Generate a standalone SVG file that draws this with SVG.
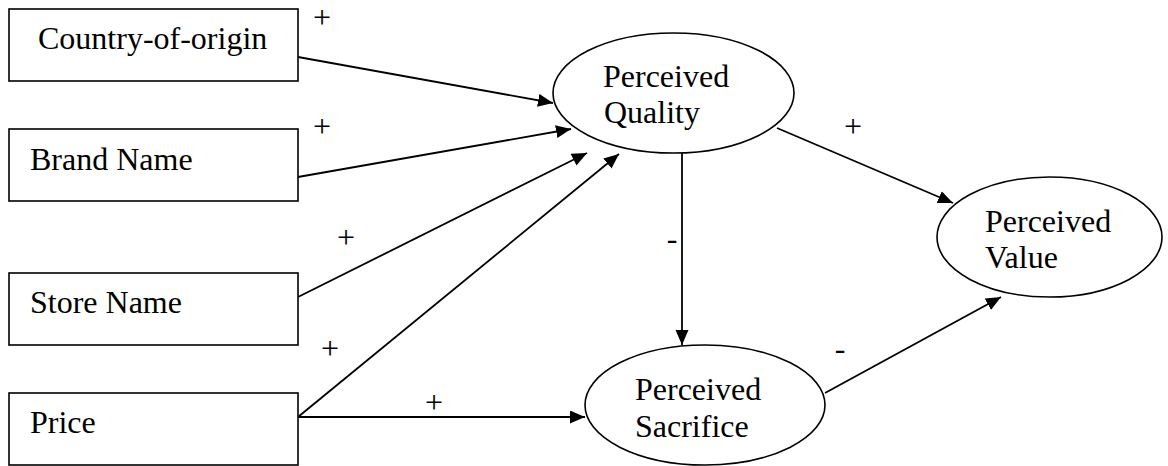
<svg xmlns="http://www.w3.org/2000/svg" width="1168" height="466" viewBox="0 0 1168 466">
<style>
.box{fill:#fff;stroke:#000;stroke-width:1.6}
.ell{fill:#fff;stroke:#000;stroke-width:1.6}
.t{font-family:"Liberation Serif","Times New Roman",serif;font-size:32px;fill:#000}
.s{font-family:"Liberation Serif","Times New Roman",serif;font-size:32px;fill:#000;text-anchor:middle}
.c{stroke:#000;stroke-width:1.8;fill:none;marker-end:url(#ah)}
</style>
<defs>
<marker id="ah" markerUnits="userSpaceOnUse" markerWidth="16" markerHeight="14" refX="15" refY="6.5" orient="auto">
<path d="M0,0 L15,6.5 L0,13 z" fill="#000"/>
</marker>
</defs>
<rect width="1168" height="466" fill="#fff"/>
<g id="connectors">
<line class="c" x1="298" y1="57" x2="553" y2="103"/>
<line class="c" x1="298" y1="177" x2="571" y2="129"/>
<line class="c" x1="298" y1="297" x2="587" y2="153"/>
<line class="c" x1="298" y1="417" x2="619" y2="154"/>
<line class="c" x1="298" y1="417" x2="585" y2="417"/>
<line class="c" x1="682" y1="153" x2="682" y2="345"/>
<line class="c" x1="777" y1="128" x2="953" y2="203"/>
<line class="c" x1="825" y1="393" x2="1001" y2="297"/>
</g>
<g id="labels">
<text class="s" x="322" y="28">+</text>
<text class="s" x="322" y="137">+</text>
<text class="s" x="346" y="248">+</text>
<text class="s" x="330" y="359">+</text>
<text class="s" x="434" y="413">+</text>
<text class="s" x="672" y="249">-</text>
<text class="s" x="853" y="137">+</text>
<text class="s" x="840" y="359">-</text>
</g>
<g id="country">
<rect class="box" x="9" y="9" width="289" height="72"/>
<text class="t" x="38" y="49">Country-of-origin</text>
</g>
<g id="brand">
<rect class="box" x="9" y="129" width="289" height="72"/>
<text class="t" x="30" y="170">Brand Name</text>
</g>
<g id="store">
<rect class="box" x="9" y="273" width="289" height="72"/>
<text class="t" x="30" y="313">Store Name</text>
</g>
<g id="price">
<rect class="box" x="9" y="393" width="289" height="72"/>
<text class="t" x="30" y="433">Price</text>
</g>
<g id="quality">
<ellipse class="ell" cx="673.5" cy="93" rx="120.5" ry="60"/>
<text class="t" x="603" y="87">Perceived</text>
<text class="t" x="604" y="123">Quality</text>
</g>
<g id="sacrifice">
<ellipse class="ell" cx="705" cy="405" rx="120" ry="60"/>
<text class="t" x="635" y="400">Perceived</text>
<text class="t" x="635" y="437">Sacrifice</text>
</g>
<g id="value">
<ellipse class="ell" cx="1049.5" cy="237" rx="112.5" ry="60"/>
<text class="t" x="985" y="232">Perceived</text>
<text class="t" x="985" y="268">Value</text>
</g>
</svg>
